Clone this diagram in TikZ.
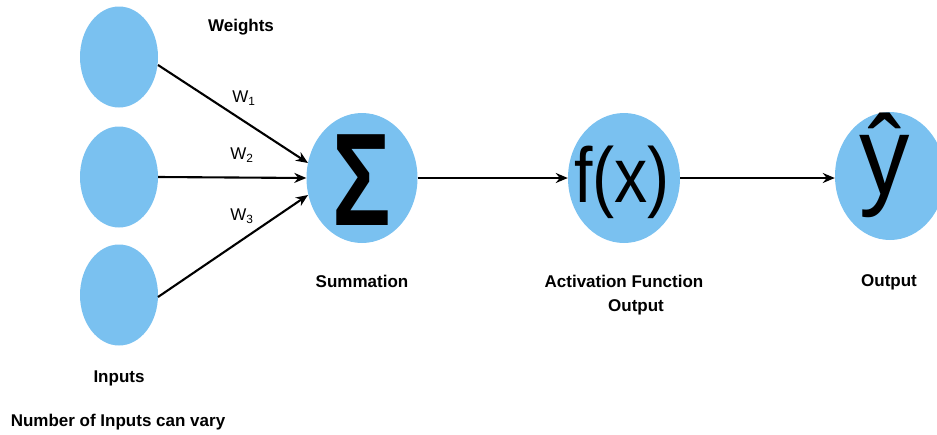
\documentclass[tikz,border=0pt]{standalone}
\usepackage{fontspec}
\setmainfont{Liberation Sans}
\usetikzlibrary{arrows.meta,shapes.geometric}
\definecolor{nodeblue}{RGB}{122,193,240}
\begin{document}
\begin{tikzpicture}[x=1pt,y=-1pt,
  blob/.style={ellipse,fill=nodeblue,inner sep=0pt},
  lbl/.style={font=\fontsize{17}{20}\selectfont\bfseries,align=center,inner sep=0pt},
  wlbl/.style={font=\fontsize{17}{20}\selectfont,inner sep=0pt},
  conn/.style={line width=2.1pt,-{Stealth[length=12pt,width=10pt]}}]
\useasboundingbox (0,0) rectangle (937,434);
\begin{scope}
\clip (0,0) rectangle (937,434);
\node[blob,minimum width=78pt,minimum height=101pt] (i1) at (119,57) {};
\node[blob,minimum width=78pt,minimum height=101pt] (i2) at (119,177) {};
\node[blob,minimum width=78pt,minimum height=101pt] (i3) at (119,295) {};
\node[blob,minimum width=111pt,minimum height=130pt] (s) at (362,178) {};
\node[blob,minimum width=112pt,minimum height=130pt] (f) at (624,178) {};
\node[blob,minimum width=110pt,minimum height=128pt] (y) at (890,176) {};
\end{scope}
\node[font=\fontsize{132}{132}\selectfont\bfseries,xscale=0.74,inner sep=0pt] (sg) at (362,180) {Σ};
\node[font=\fontsize{78}{78}\selectfont,xscale=0.85,inner sep=0pt] (fx) at (622,182) {f(x)};
\node[font=\fontsize{112}{112}\selectfont,xscale=0.9,inner sep=0pt] (yh) at (885,165) {ŷ};
\coordinate (a1) at (158,65);
\coordinate (b1) at (308,163);
\coordinate (a3) at (158,297);
\coordinate (b3) at (308,195);
\draw[conn] (a1) -- (b1);
\draw[conn] (i2.east) -- (s.west);
\draw[conn] (a3) -- (b3);
\draw[conn] (s.east) -- (f.west);
\draw[conn] (f.east) -- (f.east -| y.west);
\node[lbl] (wt) at (241,27) {Weights};
\node[wlbl] (w1) at (244,98) {W\textsubscript{1}};
\node[wlbl] (w2) at (242,155) {W\textsubscript{2}};
\node[wlbl] (w3) at (242,216) {W\textsubscript{3}};
\node[lbl] (sl) at (362,281) {Summation};
\node[lbl] (al) at (624,281) {Activation Function};
\node[lbl] (ao) at (636,307) {Output};
\node[lbl] (ol) at (889,282) {Output};
\node[lbl] (il) at (119,378) {Inputs};
\node[lbl] (nl) at (118,422) {Number of Inputs can vary};
\end{tikzpicture}
\end{document}
